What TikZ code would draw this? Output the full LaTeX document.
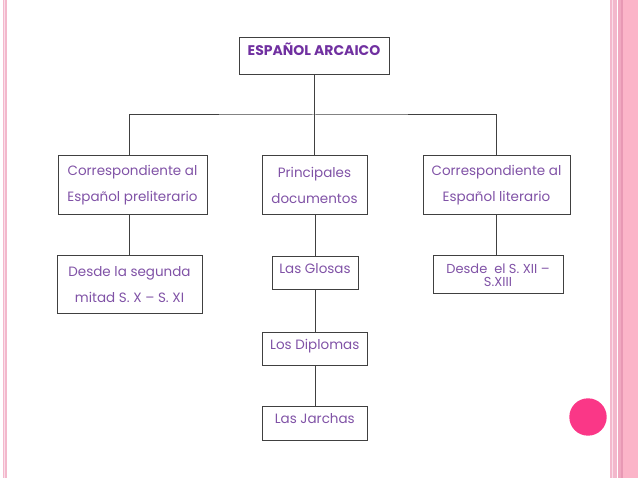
\documentclass[tikz,border=0pt]{standalone}
\usepackage{fontspec}
\setmainfont{Poppins}
\definecolor{titulo}{RGB}{112,48,160}
\definecolor{texto}{RGB}{128,82,166}
\definecolor{linea}{RGB}{64,64,64}
\definecolor{rosa}{RGB}{250,55,135}
\definecolor{franjaA}{RGB}{243,184,204}
\definecolor{franjaB}{RGB}{250,222,233}
\definecolor{franjaC}{RGB}{240,168,192}
\definecolor{franjaD}{RGB}{232,152,180}
\definecolor{franjaE}{RGB}{251,180,200}
\tikzset{
  caja/.style={draw=linea, line width=1pt, inner sep=0pt, align=center, text=texto,
    font=\fontsize{13.5}{26}\selectfont},
  conector/.style={draw=linea, line width=1pt},
}
\begin{document}
\begin{tikzpicture}[x=1pt,y=-1pt]
        \useasboundingbox (0,0) rectangle (638,478);

        \fill[franjaA] (2.5,0) rectangle (7,478);
        \fill[franjaB] (4,0) rectangle (5.3,478);
        \fill[franjaA] (610,0) rectangle (612,478);
        \fill[franjaB] (612,0) rectangle (613.3,478);
        \fill[franjaA] (613.3,0) rectangle (616.7,478);
        \fill[franjaC] (618,0) rectangle (620.7,478);
        \fill[franjaD] (620.7,0) rectangle (622.7,478);
        \fill[franjaE] (622.7,0) rectangle (638,478);

        \node[caja, anchor=north, minimum width=150pt, text height=18pt, text depth=19pt, text=titulo,
          font=\bfseries\fontsize{14}{16}\selectfont] (arcaico) at (314,37) {ESPAÑOL ARCAICO};

        \node[caja, minimum width=149pt, minimum height=59pt] (preliterario) at (132.5,185.5) {Correspondiente al\\Español preliterario};
        \node[caja, minimum width=105pt, minimum height=59pt] (documentos) at (314.5,185.5) {Principales\\documentos};
        \node[caja, minimum width=147pt, minimum height=59pt] (literario) at (496.5,185.5) {Correspondiente al\\Español literario};

        \node[caja, minimum width=145pt, minimum height=58pt] (segunda) at (129.5,285) {Desde la segunda\\mitad S. X – S. XI};
        \node[caja, anchor=north, minimum width=86pt, text height=16.7pt, text depth=16.8pt] (glosas) at (315,256) {Las Glosas};
        \node[caja, minimum width=130pt, minimum height=38pt, font=\fontsize{13}{12.5}\selectfont] (siglo) at (498,275) {Desde\ \ el S. XII –\\S.XIII};

        \node[caja, anchor=north, minimum width=105pt, text height=17.3pt, text depth=16.3pt] (diplomas) at (314.8,331.7) {Los Diplomas};
        \node[caja, anchor=north, minimum width=105pt, text height=17.6pt, text depth=16.7pt] (jarchas) at (314.8,405.7) {Las Jarchas};

        \coordinate (rama) at (arcaico.south |- 0,115);
        \draw[conector] (arcaico.south) -- (rama);
        \draw[conector] (segunda.north |- preliterario.north) |- (rama) -| (literario.north);
        \draw[conector] (rama) -- (rama |- documentos.north);
        \draw[conector] (segunda.north |- preliterario.south) -- (segunda.north);
        \draw[conector] (documentos.south -| glosas.north) -- (glosas.north);
        \draw[conector] (literario.south) -- (literario.south |- siglo.north);
        \draw[conector] (glosas.south) -- (glosas.south |- diplomas.north);
        \draw[conector] (diplomas.south -| glosas.south) -- (glosas.south |- jarchas.north);

        \fill[rosa] (588,417) circle (18.7pt);
    \end{tikzpicture}
\end{document}
